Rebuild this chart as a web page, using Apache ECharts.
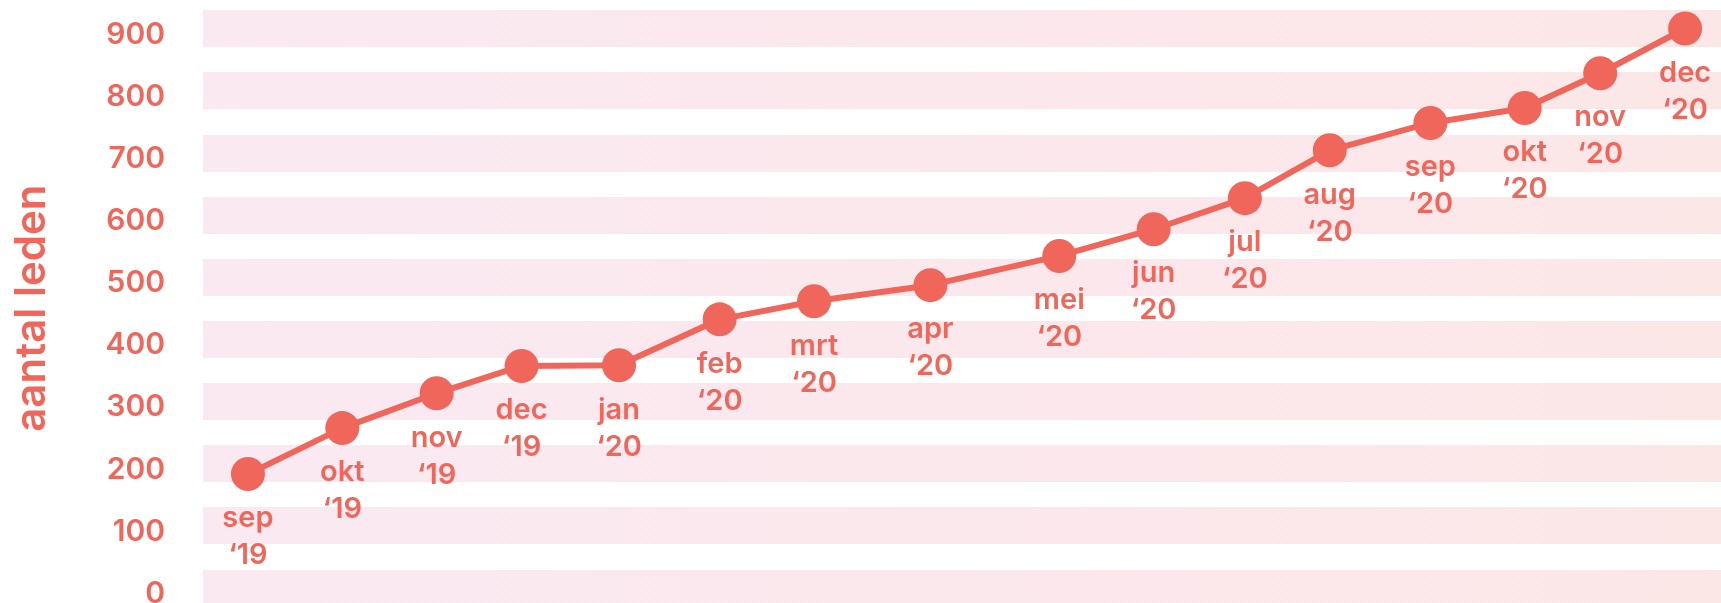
<!DOCTYPE html>
<html>
<head>
<meta charset="utf-8">
<script src="https://cdn.jsdelivr.net/npm/echarts@6/dist/echarts.min.js"></script>
<style>
  html, body { margin: 0; padding: 0; background: #ffffff; }
  #chart { width: 1721px; height: 603px; }
</style>
</head>
<body>
<div id="chart"></div>
<script>
// meetmomenten (datum van elke telling)
const dates = [
  '2019-09-01', '2019-10-01', '2019-10-31', '2019-11-27',
  '2019-12-28', '2020-01-29', '2020-02-28', '2020-04-05',
  '2020-05-16', '2020-06-15', '2020-07-14', '2020-08-10',
  '2020-09-11', '2020-10-11', '2020-11-04', '2020-12-01'
];
const members = [183, 257, 313, 357, 358, 432, 461, 487, 534, 577, 627, 704, 748, 772, 828, 900];
const monthLabels = ['sep', 'okt', 'nov', 'dec', 'jan', 'feb', 'mrt', 'apr', 'mei', 'jun', 'jul', 'aug', 'sep', 'okt', 'nov', 'dec'];
const yearLabels = ['‘19', '‘19', '‘19', '‘19', '‘20', '‘20', '‘20', '‘20', '‘20', '‘20', '‘20', '‘20', '‘20', '‘20', '‘20', '‘20'];
const yTicks = [0, 100, 200, 300, 400, 500, 600, 700, 800, 900];

const mainColor = '#F0665A';
const font = 'Inter, "Open Sans", sans-serif';

let option = {
  backgroundColor: '#ffffff',
  animation: false,
  grid: {
    left: 203,
    right: 0,
    top: 28.5,
    bottom: 15.2,
    outerBoundsMode: 'none'
  },
  xAxis: {
    type: 'time',
    min: '2019-08-17 17:00',
    max: '2020-12-12 10:00',
    axisLine: { show: false },
    axisTick: { show: false },
    axisLabel: { show: false },
    splitLine: { show: false }
  },
  yAxis: {
    type: 'value',
    min: yTicks[0],
    max: yTicks[yTicks.length - 1],
    interval: 100,
    name: 'aantal leden',
    nameLocation: 'middle',
    nameGap: 150,
    nameTextStyle: {
      color: mainColor,
      fontFamily: font,
      fontWeight: 600,
      fontSize: 42
    },
    axisLine: { show: false },
    axisTick: { show: false },
    axisLabel: {
      color: mainColor,
      fontFamily: font,
      fontWeight: 600,
      fontSize: 30,
      margin: 38,
      verticalAlign: 'top',
      lineHeight: 12
    },
    splitLine: {
      show: true,
      lineStyle: {
        width: 37,
        type: 'solid',
        color: new echarts.graphic.LinearGradient(0, 0, 1, 0, [
          { offset: 0, color: '#FAE9F2' },
          { offset: 1, color: '#FCE7E7' }
        ])
      }
    }
  },
  series: [
    {
      type: 'line',
      data: dates.map((d, i) => [d, members[i]]),
      symbol: 'circle',
      symbolSize: 34,
      lineStyle: { color: mainColor, width: 6 },
      itemStyle: { color: mainColor },
      label: {
        show: true,
        position: 'bottom',
        distance: 9,
        color: mainColor,
        fontFamily: font,
        fontWeight: 600,
        fontSize: 29,
        lineHeight: 37,
        align: 'center',
        formatter: function (params) {
          return monthLabels[params.dataIndex] + '\n' + yearLabels[params.dataIndex];
        }
      },
      z: 3
    }
  ]
};

let myChart = echarts.init(document.getElementById('chart'));
myChart.setOption(option);
</script>
</body>
</html>
